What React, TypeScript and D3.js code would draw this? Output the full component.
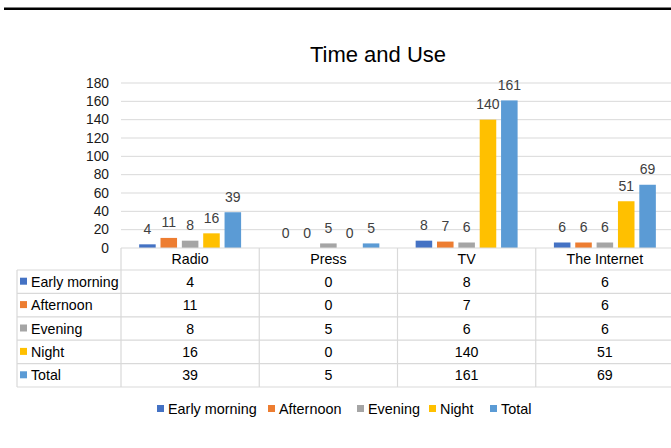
import * as d3 from 'd3';

const categories = ['Radio', 'Press', 'TV', 'The Internet'];
const seriesNames = ['Early morning', 'Afternoon', 'Evening', 'Night', 'Total'];
const earlyMorning = [4, 0, 8, 6];
const afternoon = [11, 0, 7, 6];
const evening = [8, 5, 6, 6];
const night = [16, 0, 140, 51];
const total = [39, 5, 161, 69];
const yTicks = [0, 20, 40, 60, 80, 100, 120, 140, 160, 180];
const colors = ['#4472C4', '#ED7D31', '#A5A5A5', '#FFC000', '#5B9BD5'];

const seriesValues = [earlyMorning, afternoon, evening, night, total];

const W = 671;
const H = 448;
const FONT = '"Liberation Sans", Arial, sans-serif';
const GRID = '#d9d9d9';

export default function App() {
  const x = d3.scaleBand<string>().domain(categories).range([121, 674]);
  const xInner = d3
    .scaleBand<string>()
    .domain(seriesNames)
    .range([0, x.bandwidth()])
    .paddingInner(0.225)
    .paddingOuter(0.85);
  const y = d3.scaleLinear().domain([0, 180]).range([248, 83]);

  // tabela
  const headerTop = 248;
  const headerH = 22;
  const rowH = 23.4;
  const labelLeft = 17;
  const rowTop = (i: number) => headerTop + headerH + i * rowH;
  const tableBottom = rowTop(seriesNames.length);

  // legenda inferior
  const legendX = [157, 268, 357, 429, 490];

  return (
    <svg
      width={W}
      height={H}
      style={{ position: 'absolute', left: 0, top: 0, background: '#fff', fontFamily: FONT }}
    >
      <rect width={W} height={H} fill="#fff" />
      <line x1={4} x2={W} y1={8.8} y2={8.8} stroke="#000" strokeWidth={2.6} />

      <text x={378} y={62} textAnchor="middle" fontSize={22} fill="#000">
        Time and Use
      </text>

      {/* grade e eixo y */}
      {yTicks.map(t => (
        <g key={t}>
          {t > 0 && <line x1={121} x2={W} y1={y(t)} y2={y(t)} stroke={GRID} strokeWidth={1} />}
          <text x={109} y={y(t) + 4.8} textAnchor="end" fontSize={13.8} fill="#1a1a1a">
            {t}
          </text>
        </g>
      ))}

      {/* barras */}
      {categories.map((c, ci) => (
        <g key={c} transform={`translate(${x(c)},0)`}>
          {seriesNames.map((s, si) => {
            const v = seriesValues[si][ci];
            const bx = xInner(s)!;
            return (
              <g key={s}>
                <rect
                  x={bx}
                  y={y(v)}
                  width={xInner.bandwidth()}
                  height={y(0) - y(v)}
                  fill={colors[si]}
                />
                <text
                  x={bx + xInner.bandwidth() / 2}
                  y={y(v) - 10.5}
                  textAnchor="middle"
                  fontSize={14}
                  fill="#404040"
                >
                  {v}
                </text>
              </g>
            );
          })}
        </g>
      ))}

      {/* tabela de dados */}
      <g stroke={GRID} strokeWidth={1.2}>
        <line x1={121} x2={W} y1={headerTop} y2={headerTop} />
        {seriesNames.map((s, i) => (
          <line key={s} x1={labelLeft} x2={W} y1={rowTop(i)} y2={rowTop(i)} />
        ))}
        <line x1={labelLeft} x2={W} y1={tableBottom} y2={tableBottom} />
        <line x1={labelLeft} x2={labelLeft} y1={rowTop(0)} y2={tableBottom} />
        {categories.map(c => (
          <line key={c} x1={x(c)!} x2={x(c)!} y1={headerTop} y2={tableBottom} />
        ))}
      </g>
      {categories.map(c => (
        <text
          key={c}
          x={x(c)! + x.bandwidth() / 2}
          y={headerTop + headerH / 2 + 5}
          textAnchor="middle"
          fontSize={14.2}
          fill="#000"
        >
          {c}
        </text>
      ))}
      {seriesNames.map((s, si) => (
        <g key={s}>
          <rect x={20} y={rowTop(si) + rowH / 2 - 4} width={7} height={7} fill={colors[si]} />
          <text x={31} y={rowTop(si) + rowH / 2 + 5} fontSize={14.2} fill="#000">
            {s}
          </text>
          {categories.map((c, ci) => (
            <text
              key={c}
              x={x(c)! + x.bandwidth() / 2}
              y={rowTop(si) + rowH / 2 + 5}
              textAnchor="middle"
              fontSize={14.2}
              fill="#000"
            >
              {seriesValues[si][ci]}
            </text>
          ))}
        </g>
      ))}

      {/* legenda */}
      {seriesNames.map((s, si) => (
        <g key={s}>
          <rect x={legendX[si]} y={405} width={7} height={7} fill={colors[si]} />
          <text x={legendX[si] + 11} y={413.5} fontSize={14.4} fill="#000">
            {s}
          </text>
        </g>
      ))}
    </svg>
  );
}
